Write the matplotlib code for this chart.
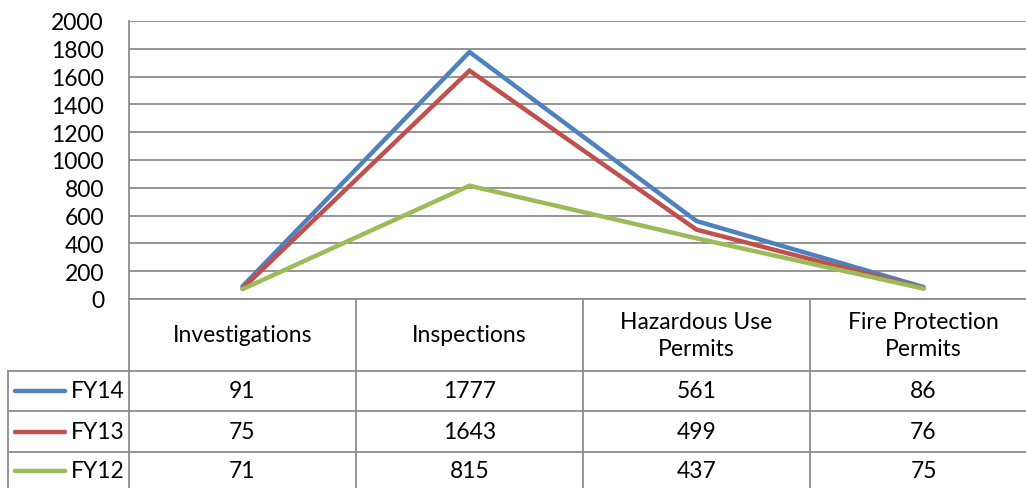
import matplotlib
matplotlib.use("Agg")
import matplotlib.pyplot as plt
from matplotlib.lines import Line2D

categories = ["Investigations", "Inspections", "Hazardous Use\nPermits", "Fire Protection\nPermits"]
series_names = ["FY14", "FY13", "FY12"]
fy14 = [91, 1777, 561, 86]
fy13 = [75, 1643, 499, 76]
fy12 = [71, 815, 437, 75]
yticks = [0, 200, 400, 600, 800, 1000, 1200, 1400, 1600, 1800, 2000]

colors = ["#4F81BD", "#C0504D", "#9BBB59"]
grid_c = "#8C8C8C"
FONT = "Lato"
FS = 16.5
plt.rcParams['font.family'] = [FONT, 'DejaVu Sans']

W, H = 1026, 489
fig = plt.figure(figsize=(W / 100, H / 100), dpi=100)

# plot area geometry (pixels)
x0, x1 = 129, 1037
ytop, ybot = 22, 300
ax = fig.add_axes([x0 / W, (H - ybot) / H, (x1 - x0) / W, (ybot - ytop) / H])
ax.set_xlim(-0.5, len(categories) - 0.5)
ax.set_ylim(0, 2000)
ax.set_yticks(yticks)
ax.set_yticklabels([str(v) for v in yticks], fontsize=FS)
ax.tick_params(axis='y', length=0, pad=18)
ax.set_xticks([])
for s in ax.spines.values():
    s.set_visible(False)
ax.spines['left'].set_visible(True)
ax.spines['left'].set_color(grid_c)
ax.spines['left'].set_linewidth(1.3)
ax.grid(axis='y', color=grid_c, linewidth=1.3)
ax.set_axisbelow(True)

xs = list(range(len(categories)))
for vals, c in zip([fy14, fy13, fy12], colors):
    ax.plot(xs, vals, color=c, linewidth=3.2, solid_joinstyle='miter', solid_capstyle='round', zorder=3)

# overlay axes in pixel coordinates for the data table
ov = fig.add_axes([0, 0, 1, 1], zorder=5)
ov.set_xlim(0, W)
ov.set_ylim(H, 0)
ov.axis('off')
ov.patch.set_alpha(0)

colw = (x1 - x0) / len(categories)
col_edges = [x0 + i * colw for i in range(len(categories) + 1)]
row_edges = [300, 372, 412, 453, 494]
legend_left = 8

lw = 1.3
ov.add_line(Line2D([x0, x1], [row_edges[0]] * 2, color=grid_c, lw=lw))
for yy in row_edges[1:]:
    ov.add_line(Line2D([legend_left, x1], [yy] * 2, color=grid_c, lw=lw))
for xx in col_edges:
    ov.add_line(Line2D([xx, xx], [row_edges[0], row_edges[-1]], color=grid_c, lw=lw))
ov.add_line(Line2D([legend_left, legend_left], [row_edges[1], row_edges[-1]], color=grid_c, lw=lw))

hdr_c = (row_edges[0] + row_edges[1]) / 2
for i, cat in enumerate(categories):
    cx = (col_edges[i] + col_edges[i + 1]) / 2
    ov.text(cx, hdr_c, cat, ha='center', va='center', fontsize=FS, color='black', linespacing=1.3)

for r, (name, vals, c) in enumerate(zip(series_names, [fy14, fy13, fy12], colors)):
    cy = (row_edges[r + 1] + row_edges[r + 2]) / 2
    if r == 2:
        cy = 472
    ov.add_line(Line2D([15, 65], [cy, cy], color=c, lw=3.2, solid_capstyle='round'))
    ov.text(71, cy, name, ha='left', va='center', fontsize=FS, color='black')
    for i, v in enumerate(vals):
        cx = (col_edges[i] + col_edges[i + 1]) / 2
        ov.text(cx, cy, str(v), ha='center', va='center', fontsize=FS, color='black')

fig.savefig("out.png", dpi=100)
